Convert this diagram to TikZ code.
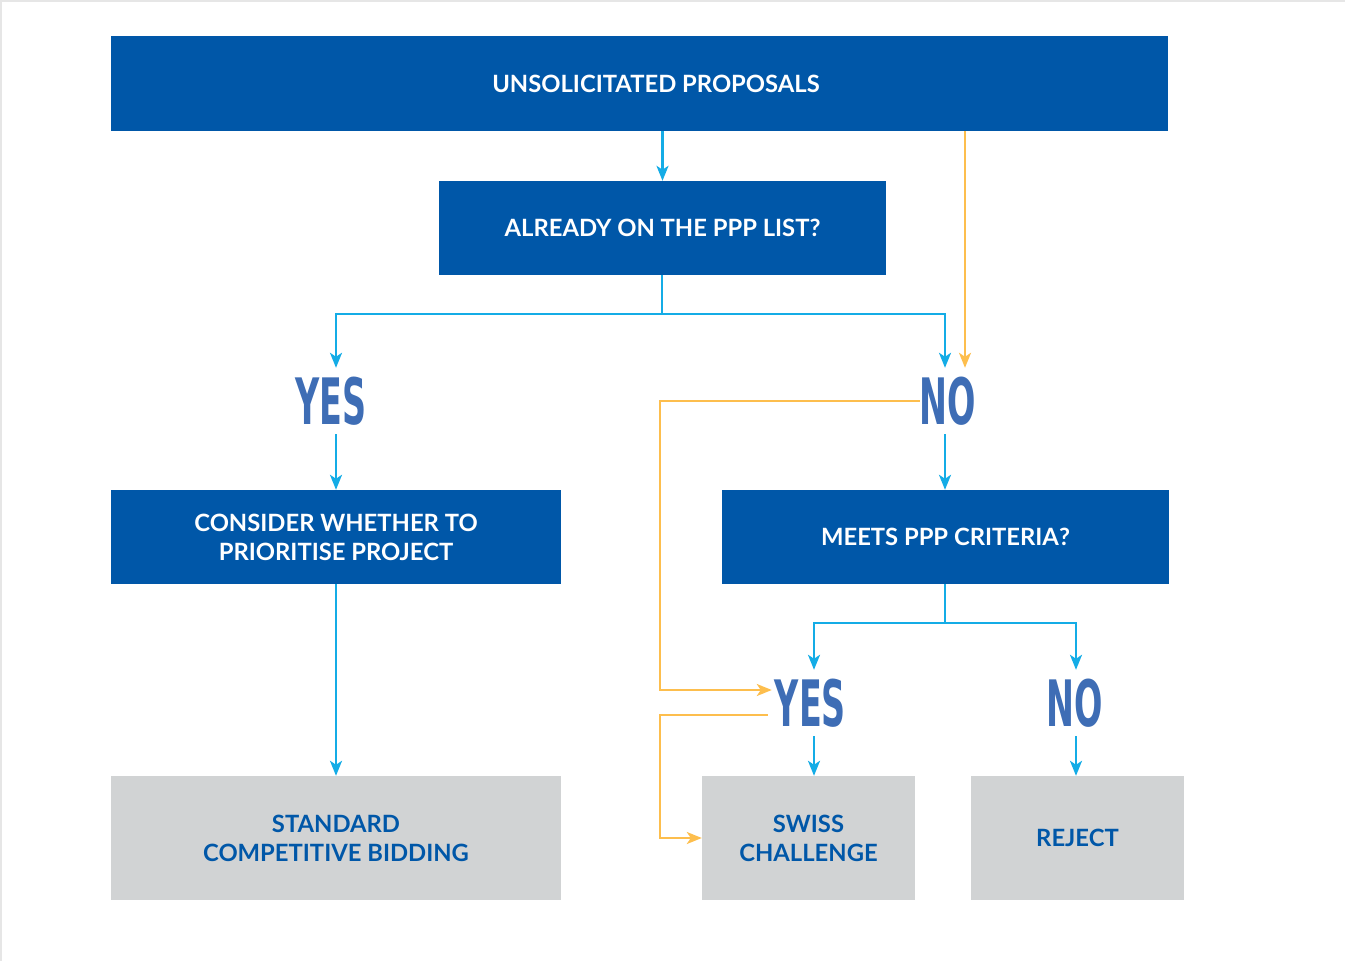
\documentclass[tikz,border=0pt]{standalone}
\usepackage{fontspec}
\setmainfont{Lato}
\newfontfamily\answerfont[FakeStretch=0.58]{DejaVu Sans Condensed}
\usetikzlibrary{arrows.meta}

\definecolor{boxblue}{RGB}{0,87,168}
\definecolor{boxgray}{RGB}{209,211,212}
\definecolor{answerblue}{RGB}{62,109,181}
\definecolor{linecyan}{RGB}{20,172,230}
\definecolor{lineorange}{RGB}{253,190,77}
\definecolor{frame}{RGB}{230,230,230}

\newcommand{\boxfont}{\bfseries\fontsize{23.8}{29}\selectfont}

\begin{document}
\begin{tikzpicture}[x=1pt,y=-1pt,
    bluebox/.style={fill=boxblue,text=white,inner sep=0pt,align=center,font=\boxfont},
    graybox/.style={fill=boxgray,text=boxblue,inner sep=0pt,align=center,font=\boxfont},
    boxtext/.style={text=white,inner sep=0pt,font=\boxfont},
    answer/.style={text=answerblue,inner sep=0pt,minimum height=66pt,
        font=\answerfont\bfseries\fontsize{64}{64}\selectfont},
    flow/.style={draw=linecyan,line width=2.5pt,-{Stealth[length=15pt,width=12pt,inset=4pt]}},
    alt/.style={draw=lineorange,line width=2.2pt,-{Stealth[length=15pt,width=12pt,inset=4pt]}}]
  \useasboundingbox (0,0) rectangle (1345,961);
  \draw[frame,line width=2pt] (1,961) -- (1,1) -- (1345,1);

  % boxes
  \node[bluebox,minimum width=1057pt,minimum height=95pt] (proposals) at (639.5,83.5) {};
  \node[boxtext] (proposalstext) at (656,84) {UNSOLICITATED PROPOSALS};
  \node[bluebox,minimum width=447pt,minimum height=94pt] (already) at (662.5,228) {ALREADY ON THE PPP LIST?};
  \node[bluebox,minimum width=450pt,minimum height=94pt] (consider) at (336,537) {CONSIDER WHETHER TO\\PRIORITISE PROJECT};
  \node[bluebox,minimum width=447pt,minimum height=94pt] (meets) at (945.5,537) {MEETS PPP CRITERIA?};
  \node[graybox,minimum width=450pt,minimum height=124pt] (standard) at (336,838) {STANDARD\\COMPETITIVE BIDDING};
  \node[graybox,minimum width=213pt,minimum height=124pt] (swiss) at (808.5,838) {SWISS\\CHALLENGE};
  \node[graybox,minimum width=213pt,minimum height=124pt] (reject) at (1077.5,838) {REJECT};

  % answers
  \node[answer] (yesA) at (331,401) {YES};
  \node[answer] (noA) at (948,401) {NO};
  \node[answer] (yesB) at (810.5,703) {YES};
  \node[answer] (noB) at (1075,703) {NO};

  % blue connectors
  \coordinate (splitA) at (662,314);
  \coordinate (splitB) at (945,623);
  \draw[flow] (proposals.south -| already.north) -- (already.north);
  \draw[flow] (already.south -| splitA) -- (splitA) -| (yesA.north -| consider.north);
  \draw[flow] (splitA) -| (noA.north -| 945,0);
  \draw[flow] (yesA.south -| consider.north) -- (consider.north);
  \draw[flow] (noA.south -| 945,0) -- (meets.north -| 945,0);
  \draw[flow] (consider.south) -- (standard.north);
  \draw[flow] (meets.south -| splitB) -- (splitB) -| (yesB.north -| 814,0);
  \draw[flow] (splitB) -| (noB.north -| 1076,0);
  \draw[flow] (yesB.south -| 814,0) -- (swiss.north -| 814,0);
  \draw[flow] (noB.south -| 1076,0) -- (reject.north -| 1076,0);

  % orange connectors
  \coordinate (altstart) at (965,131);
  \coordinate (bendA) at (660,401);
  \draw[alt] (altstart) -- (altstart |- noA.north);
  \draw[alt] (noA.west) -- (bendA) |- ([yshift=13pt,xshift=-3pt]yesB.west);
  \draw[alt] ([yshift=-12pt,xshift=-7pt]yesB.west) -- ++(-108,0) |- (swiss.west);
\end{tikzpicture}
\end{document}
